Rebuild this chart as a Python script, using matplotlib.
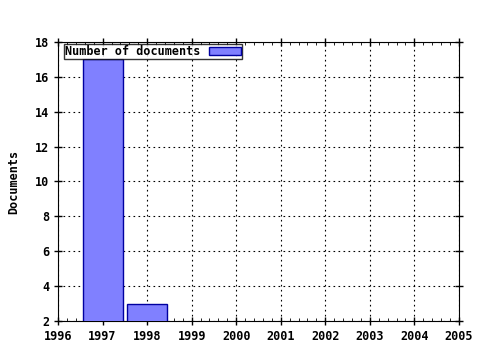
import matplotlib.pyplot as plt
from matplotlib.ticker import MultipleLocator

years = [1997, 1998]
documents = [17, 3]
series_label = "Number of documents"

plt.rcParams["font.family"] = "DejaVu Sans Mono"
plt.rcParams["font.weight"] = "bold"

fig = plt.figure(figsize=(4.8, 3.5), dpi=100)
ax = fig.add_axes([0.121, 0.083, 0.835, 0.797])

ax.bar(years, documents, width=0.9, color="#8080ff", edgecolor="#0000a0",
       linewidth=1, label=series_label, zorder=3)

ax.set_xlim(1996, 2005)
ax.set_ylim(2, 18)
ax.set_xticks(range(1996, 2006))
ax.set_yticks(range(2, 19, 2))
ax.xaxis.set_minor_locator(MultipleLocator(0.2))
ax.tick_params(which="major", direction="inout", length=6, labelsize=8.5, width=1)
ax.tick_params(which="minor", direction="in", length=2)
ax.tick_params(top=True, right=True, which="both", labeltop=False, labelright=False)
ax.grid(True, linestyle=(0, (1.5, 3)), color="black", linewidth=0.8, zorder=0)
ax.set_ylabel("Documents", fontsize=8.5, fontweight="bold")
ax.yaxis.set_label_coords(-0.095, 0.5)

leg = ax.legend(loc="upper left", bbox_to_anchor=(6 / 401, 1 - 2 / 279),
                markerfirst=False, fontsize=8.5, frameon=True,
                fancybox=False, borderpad=0.1, borderaxespad=0,
                handlelength=2.7, handleheight=0.6, handletextpad=0.7)
leg.get_frame().set_edgecolor("black")
leg.get_frame().set_linewidth(1)

fig.savefig("out.png", dpi=100)
